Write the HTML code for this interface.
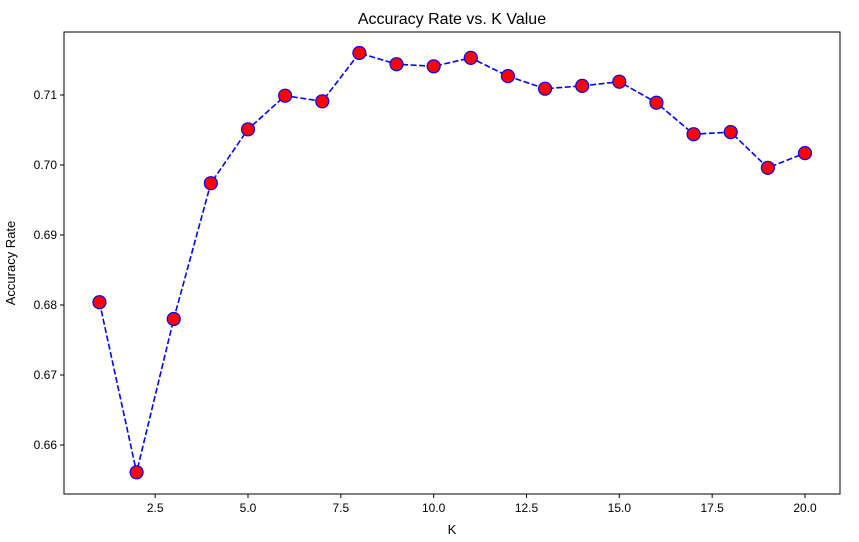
<!DOCTYPE html>
<html><head><meta charset="utf-8"><style>
body{margin:0;background:#fff;}
svg{display:block;font-family:"Liberation Sans","DejaVu Sans",sans-serif;}
</style></head><body>
<svg id="chart" width="859" height="542"></svg>
<script>
const kValues=[1,2,3,4,5,6,7,8,9,10,11,12,13,14,15,16,17,18,19,20];
const accuracy=[0.6804,0.6561,0.6780,0.6974,0.7051,0.7099,0.7091,0.7160,0.7144,0.7141,0.7153,0.7127,0.7109,0.7113,0.7119,0.7089,0.7044,0.7047,0.6996,0.7017];
const xTicks=[2.5,5.0,7.5,10.0,12.5,15.0,17.5,20.0];
const yTicks=[0.66,0.67,0.68,0.69,0.70,0.71];
const L=64,R=840,T=32,B=494;
const xs=v=>248+(v-5)*(805-248)/15;
const ys=v=>95+(0.71-v)*7000;
const svg=document.getElementById('chart');
const NS='http://www.w3.org/2000/svg';
function mk(t,a,txt){const e=document.createElementNS(NS,t);for(const k in a)e.setAttribute(k,a[k]);if(txt!==undefined)e.textContent=txt;svg.appendChild(e);return e;}
let e;
e=mk('rect',{x:L,y:T,width:R-L,height:B-T,fill:'none',stroke:'#000','stroke-width':1});


xTicks.forEach(v=>{const x=xs(v);
 e=mk('line',{x1:x,x2:x,y1:B,y2:B+4,stroke:'#000'});
 
 
 e=mk('text',{x:x,y:B+18,'font-size':12,'text-anchor':'middle'},v.toFixed(1));
 
 
});
yTicks.forEach(v=>{const y=ys(v);
 e=mk('line',{x1:L-4,x2:L,y1:y,y2:y,stroke:'#000'});
 
 
 e=mk('text',{x:L-7,y:y+4,'font-size':12,'text-anchor':'end'},v.toFixed(2));
 
 
});
e=mk('text',{x:452,y:534,'font-size':13,'text-anchor':'middle'},'K');


e=mk('text',{x:15,y:263,'font-size':13,'text-anchor':'middle',transform:'rotate(-90 15 263)'},'Accuracy Rate');


e=mk('text',{x:452,y:24,'font-size':16,'text-anchor':'middle'},'Accuracy Rate vs. K Value');


const pts=kValues.map((k,i)=>xs(k)+','+ys(accuracy[i])).join(' ');
e=mk('polyline',{points:pts,fill:'none',stroke:'blue','stroke-width':1.6,'stroke-dasharray':'6,2.5'});


kValues.forEach((k,i)=>{
 e=mk('circle',{cx:xs(k),cy:ys(accuracy[i]),r:6.5,fill:'red',stroke:'blue','stroke-width':1.2});
 
 
});
</script>
</body></html>
